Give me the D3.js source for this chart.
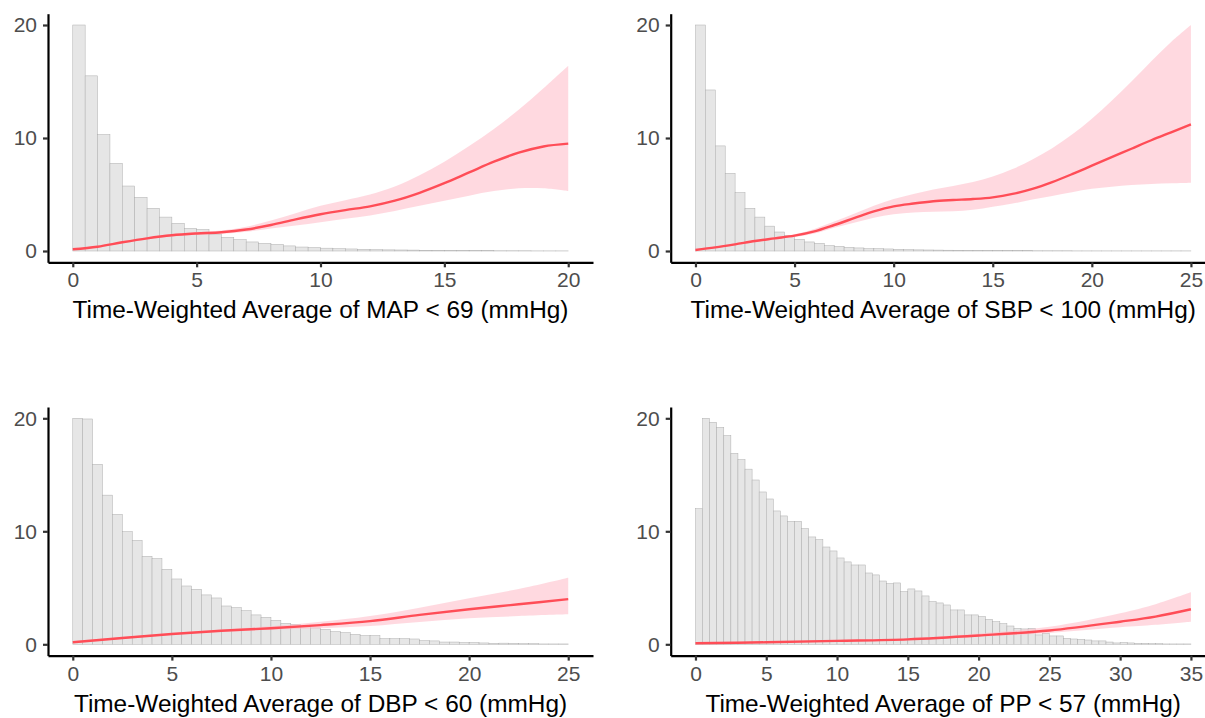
<!DOCTYPE html>
<html>
<head>
	<meta charset="utf-8">
	<style>
		html, body { margin: 0; padding: 0; background: white; }
		svg { display: block; font-family: "Liberation Sans", Arial, sans-serif; }
	</style>
</head>
<body>

<svg class="chart" width="1205" height="718"></svg>

<script src="https://d3js.org/d3.v7.min.js"></script>
<script>

// histogram bar heights (bins of 0.5, rescaled so the tallest bar is 20)
var mapBins = [20, 15.5, 10.3, 7.76, 5.75, 4.75, 3.78, 3.0, 2.45, 2.0,
	1.9, 1.5, 1.2, 1.0, 0.8, 0.68, 0.58, 0.45, 0.35, 0.3,
	0.25, 0.2, 0.18, 0.15, 0.12, 0.1, 0.09, 0.08, 0.06, 0.05,
	0.04, 0.04, 0.03, 0.03, 0.02, 0.02, 0.02, 0.01, 0.01, 0.01]
var sbpBins = [20, 14.25, 9.3, 6.87, 5.16, 3.78, 3.0, 2.2, 1.68, 1.39,
	1.03, 0.8, 0.68, 0.47, 0.41, 0.32, 0.27, 0.2, 0.2, 0.18,
	0.15, 0.12, 0.1, 0.09, 0.08, 0.07, 0.06, 0.05, 0.05, 0.04,
	0.04, 0.03, 0.03, 0.03, 0.02, 0.02, 0.02, 0.02, 0.01, 0.01,
	0.01, 0.01, 0.01, 0.01, 0.01, 0.01, 0.01, 0.01, 0.01, 0.01]
var dbpBins = [20, 19.94, 15.93, 13.2, 11.5, 9.97, 9.2, 7.79, 7.58, 6.64,
	5.78, 5.16, 4.87, 4.37, 4.1, 3.39, 3.24, 2.98, 2.6, 2.39,
	2.12, 1.86, 1.77, 1.6, 1.45, 1.33, 1.12, 1.03, 0.88, 0.77,
	0.77, 0.5, 0.5, 0.5, 0.47, 0.32, 0.3, 0.2, 0.2, 0.15,
	0.15, 0.12, 0.09, 0.1, 0.09, 0.06, 0.06, 0.03, 0.03, 0.03]
var ppBins = [12, 20, 19.65, 19.2, 18.47, 16.9, 16.34, 15.5, 14.54, 13.48,
	12.86, 11.8, 11.36, 10.88, 10.88, 10.24, 9.5, 9.26, 8.61, 8.26,
	7.64, 7.29, 7.02, 7.02, 6.31, 6.14, 5.6, 5.37, 5.43, 4.66,
	4.9, 4.72, 4.28, 3.78, 3.66, 3.48, 3.04, 3.04, 2.6, 2.6,
	2.45, 2.21, 2.0, 1.83, 1.62, 1.42, 1.36, 1.42, 0.83, 0.97,
	0.74, 0.74, 0.53, 0.47, 0.44, 0.38, 0.3, 0.3, 0.2, 0.12,
	0.15, 0.12, 0.09, 0.09, 0.06, 0.06, 0.03, 0.03, 0.03, 0.03]

// fitted curves with confidence band
var mapX   = [0, 1, 2, 3, 4, 5, 6, 7, 8, 9, 10, 11, 12, 13, 14, 15, 16, 17, 18, 19, 20]
var mapFit = [0.15, 0.38, 0.77, 1.12, 1.39, 1.55, 1.66, 1.9, 2.3, 2.8, 3.25, 3.62, 3.95, 4.45, 5.15, 6.0, 6.95, 7.9, 8.7, 9.25, 9.5]
var mapLo  = [0.05, 0.3, 0.68, 1.02, 1.28, 1.44, 1.52, 1.7, 2.0, 2.25, 2.55, 2.85, 3.15, 3.55, 4.0, 4.45, 4.9, 5.3, 5.55, 5.55, 5.3]
var mapHi  = [0.25, 0.46, 0.86, 1.22, 1.5, 1.67, 1.82, 2.15, 2.7, 3.35, 4.0, 4.5, 5.0, 5.7, 6.7, 7.9, 9.3, 10.8, 12.5, 14.4, 16.4]

var sbpX   = [0, 1, 2, 3, 4, 5, 6, 7, 8, 9, 10, 11, 12, 13, 14, 15, 16, 17, 18, 19, 20, 21, 22, 23, 24, 25]
var sbpFit = [0.09, 0.32, 0.59, 0.88, 1.12, 1.36, 1.74, 2.3, 2.9, 3.5, 3.95, 4.2, 4.4, 4.51, 4.6, 4.75, 5.05, 5.5, 6.1, 6.8, 7.55, 8.3, 9.05, 9.8, 10.5, 11.2]
var sbpLo  = [0.0, 0.24, 0.5, 0.78, 1.02, 1.25, 1.55, 2.05, 2.5, 2.95, 3.25, 3.4, 3.48, 3.52, 3.65, 3.92, 4.2, 4.55, 4.87, 5.2, 5.5, 5.69, 5.84, 5.93, 5.99, 6.05]
var sbpHi  = [0.18, 0.4, 0.68, 0.98, 1.22, 1.48, 1.95, 2.6, 3.3, 4.0, 4.6, 5.05, 5.45, 5.75, 6.1, 6.6, 7.25, 8.1, 9.1, 10.3, 11.7, 13.3, 15.0, 16.8, 18.5, 20.0]

var dbpX   = [0, 2.5, 5, 7.5, 10, 12.5, 15, 17.5, 20, 22.5, 25]
var dbpFit = [0.18, 0.56, 0.91, 1.2, 1.42, 1.7, 2.05, 2.6, 3.1, 3.54, 4.0]
var dbpLo  = [0.1, 0.48, 0.82, 1.1, 1.28, 1.42, 1.62, 1.98, 2.3, 2.5, 2.65]
var dbpHi  = [0.26, 0.64, 1.0, 1.32, 1.6, 2.0, 2.5, 3.24, 4.07, 4.9, 5.9]

var ppX   = [0, 5, 10, 15, 20, 25, 30, 32.5, 35]
var ppFit = [0.09, 0.18, 0.3, 0.44, 0.78, 1.22, 2.0, 2.45, 3.1]
var ppLo  = [0.05, 0.13, 0.24, 0.36, 0.66, 1.0, 1.5, 1.72, 2.0]
var ppHi  = [0.13, 0.23, 0.36, 0.52, 0.95, 1.55, 2.75, 3.55, 4.6]

var xTicks = {
	map: [0, 5, 10, 15, 20],
	sbp: [0, 5, 10, 15, 20, 25],
	dbp: [0, 5, 10, 15, 20, 25],
	pp: [0, 5, 10, 15, 20, 25, 30, 35]
}
var yTicks = [0, 10, 20]

var titles = {
	map: 'Time-Weighted Average of MAP < 69 (mmHg)',
	sbp: 'Time-Weighted Average of SBP < 100 (mmHg)',
	dbp: 'Time-Weighted Average of DBP < 60 (mmHg)',
	pp: 'Time-Weighted Average of PP < 57 (mmHg)'
}

var panels = [
	{ key: 'map', xMax: 20, bins: mapBins, x: mapX, fit: mapFit, lo: mapLo, hi: mapHi, left: 48, top: 13.7 },
	{ key: 'sbp', xMax: 25, bins: sbpBins, x: sbpX, fit: sbpFit, lo: sbpLo, hi: sbpHi, left: 670.7, top: 13.7 },
	{ key: 'dbp', xMax: 25, bins: dbpBins, x: dbpX, fit: dbpFit, lo: dbpLo, hi: dbpHi, left: 48, top: 407 },
	{ key: 'pp', xMax: 35, bins: ppBins, x: ppX, fit: ppFit, lo: ppLo, hi: ppHi, left: 670.7, top: 407 }
]

var cfg = {
	width: 545,
	height: 248.6,
	binWidth: 0.5,
	tickLen: 5,
	tickSize: 21,
	titleSize: 24.4,
	lineColor: '#ff4d57',
	bandColor: 'pink',
	barFill: '#e6e6e6',
	barStroke: '#aeaeae'
}

var svg = d3.select('.chart')

panels.forEach(function(p) {
	var g = svg.append('g')
		.attr('transform', 'translate(' + p.left + ',' + p.top + ')')

	// ggplot style 5% expansion
	var pad = p.xMax * 0.05
	var x = d3.scaleLinear().domain([-pad, p.xMax + pad]).range([0, cfg.width])
	var y = d3.scaleLinear().domain([-1, 21]).range([cfg.height, 0])

	// histogram
	g.selectAll('.bar')
		.data(p.bins)
		.enter().append('rect')
			.attr('class', 'bar')
			.attr('x', function(d, i) { return x(i * cfg.binWidth) })
			.attr('width', function(d, i) { return x((i + 1) * cfg.binWidth) - x(i * cfg.binWidth) })
			.attr('y', function(d) { return y(d) })
			.attr('height', function(d) { return y(0) - y(d) })
			.attr('fill', cfg.barFill)
			.attr('stroke', cfg.barStroke)
			.attr('stroke-width', 0.5)

	var pts = p.x.map(function(v, i) {
		return { x: v, fit: p.fit[i], lo: p.lo[i], hi: p.hi[i] }
	})

	var smooth = d3.curveCatmullRom.alpha(0.5)

	// confidence band
	g.append('path')
		.datum(pts)
		.attr('fill', cfg.bandColor)
		.attr('fill-opacity', 0.6)
		.attr('d', d3.area()
			.curve(smooth)
			.x(function(d) { return x(d.x) })
			.y0(function(d) { return y(d.lo) })
			.y1(function(d) { return y(d.hi) }))

	// fitted line
	g.append('path')
		.datum(pts)
		.attr('fill', 'none')
		.attr('stroke', cfg.lineColor)
		.attr('stroke-width', 2.4)
		.attr('d', d3.line()
			.curve(smooth)
			.x(function(d) { return x(d.x) })
			.y(function(d) { return y(d.fit) }))

	// axes
	var xAxis = g.append('g')
		.attr('transform', 'translate(0,' + cfg.height + ')')
		.call(d3.axisBottom(x).tickValues(xTicks[p.key]).tickSize(cfg.tickLen).tickPadding(5).tickSizeOuter(0))
	var yAxis = g.append('g')
		.call(d3.axisLeft(y).tickValues(yTicks).tickSize(cfg.tickLen).tickPadding(6).tickSizeOuter(0))

	;[xAxis, yAxis].forEach(function(a) {
		a.select('.domain').attr('stroke', 'black').attr('stroke-width', 2.2)
		a.selectAll('.tick line').attr('stroke', '#333').attr('stroke-width', 2.2)
		a.selectAll('.tick text')
			.attr('fill', '#4d4d4d')
			.attr('font-size', cfg.tickSize)
			.attr('font-family', '"Liberation Sans", Arial, sans-serif')
	})

	// axis title
	g.append('text')
		.attr('x', cfg.width / 2)
		.attr('y', cfg.height + 56)
		.attr('text-anchor', 'middle')
		.attr('font-size', cfg.titleSize)
		.attr('fill', 'black')
		.text(titles[p.key])
})

</script>

</body>
</html>
